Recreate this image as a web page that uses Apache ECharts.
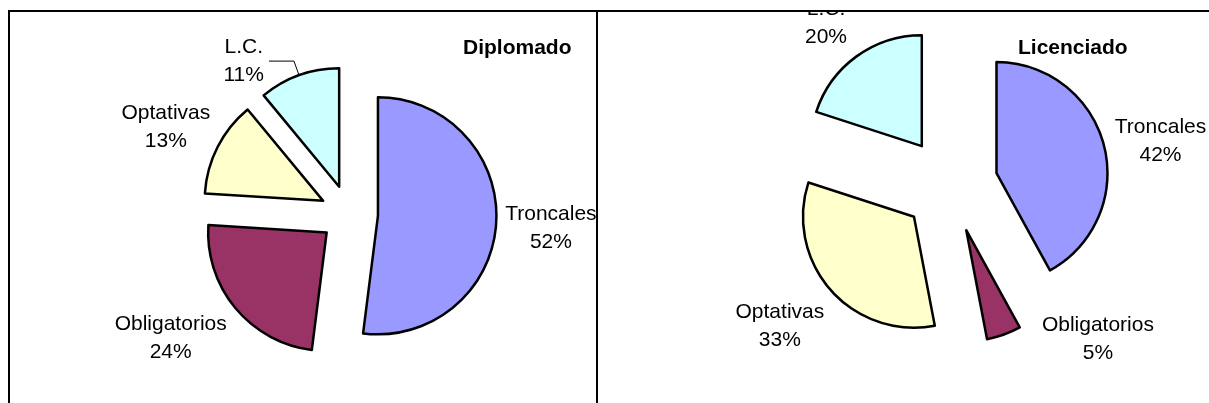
<!DOCTYPE html>
<html>
<head>
<meta charset="utf-8">
<script src="https://cdn.jsdelivr.net/npm/echarts@6/dist/echarts.min.js"></script>
<style>
  html, body { margin: 0; padding: 0; background: #fff; }
  #chart { width: 1209px; height: 403px; }
</style>
</head>
<body>
<div id="chart"></div>
<script>
  // data (percent of total)
  const categories = ['Troncales', 'Obligatorios', 'Optativas', 'L.C.']
  const diplomadoValues = [52, 24, 13, 11]
  const licenciadoValues = [42, 5, 33, 20]
  const chartTitles = ['Diplomado', 'Licenciado']

  const sliceColors = ['#9999FF', '#993366', '#FFFFCC', '#CCFFFF']
  const fontFamily = '"Liberation Sans", Arial, sans-serif'

  // label nudges (dx, dy) per slice, from the library's outside position
  const leftNudges = [[-2, 5], [1, 26], [3, -17], [0, 0]]
  const rightNudges = [[0, -3], [31, -1], [3, 32], [-1, -28]]

  const chart = echarts.init(document.getElementById('chart'))

  function makePie(values, center, radius, offset, nudges, leaderIndex) {
    return {
      type: 'pie',
      center: center,
      radius: radius,
      startAngle: 90,
      clockwise: true,
      selectedMode: 'multiple',
      selectedOffset: offset,
      avoidLabelOverlap: false,
      itemStyle: { borderColor: '#000', borderWidth: 2.5 },
      select: { itemStyle: { borderColor: '#000', borderWidth: 2.5 } },
      emphasis: { disabled: true },
      label: {
        show: true,
        position: 'outside',
        formatter: p => '{n|' + p.name + '}\n{n|' + p.value + '%}',
        rich: {
          n: { fontSize: 21, lineHeight: 28, color: '#000', align: 'center', fontFamily: fontFamily }
        }
      },
      labelLine: { show: false, length: 6, length2: 0 },
      labelLayout: function (p) {
        const n = nudges[p.dataIndex]
        if (n[0] === 0 && n[1] === 0) return {}
        return { dx: n[0], dy: n[1] }
      },
      data: categories.map((name, i) => {
        const item = {
          name: name,
          value: values[i],
          selected: true,
          itemStyle: { color: sliceColors[i] }
        }
        // small leader line for the crowded label
        if (i === leaderIndex) {
          item.labelLine = { show: true, length: 15, length2: 25, lineStyle: { color: '#000', width: 1 } }
        }
        return item
      })
    }
  }

  const option = {
    animation: false,
    backgroundColor: '#fff',
    title: [
      { text: chartTitles[0], left: 463, top: 38, padding: 0,
        textStyle: { fontSize: 21, fontWeight: 'bold', color: '#000', fontFamily: fontFamily } },
      { text: chartTitles[1], left: 1018, top: 38, padding: 0,
        textStyle: { fontSize: 21, fontWeight: 'bold', color: '#000', fontFamily: fontFamily } }
    ],
    series: [
      makePie(diplomadoValues, [349, 214], 118.5, 29, leftNudges, 3),
      makePie(licenciadoValues, [950, 185], 111, 48, rightNudges, -1)
    ],
    graphic: [
      { type: 'rect', z: 100, shape: { x: 0, y: 0, width: 1209, height: 10 }, style: { fill: '#fff' } },
      { type: 'line', z: 101, shape: { x1: 9, y1: 11, x2: 1209, y2: 11 }, style: { stroke: '#000', lineWidth: 2 } },
      { type: 'line', z: 101, shape: { x1: 9, y1: 10, x2: 9, y2: 403 }, style: { stroke: '#000', lineWidth: 2 } },
      { type: 'line', z: 101, shape: { x1: 597, y1: 10, x2: 597, y2: 403 }, style: { stroke: '#000', lineWidth: 2 } }
    ]
  }

  chart.setOption(option)
</script>
</body>
</html>
